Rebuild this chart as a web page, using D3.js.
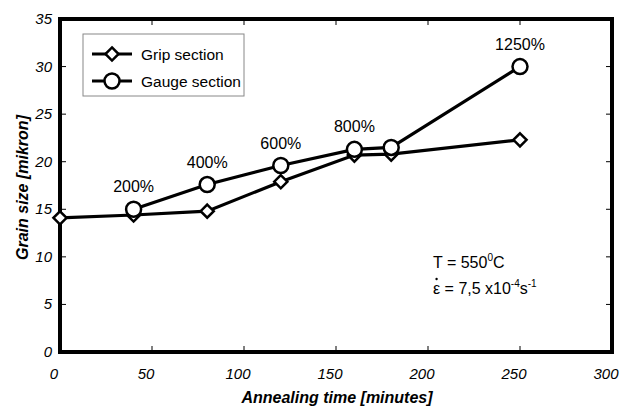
<!DOCTYPE html>
<html>
<head>
<meta charset="utf-8">
<script src="https://cdn.jsdelivr.net/npm/d3@7"></script>
<style>
  body { margin: 0; background: #fff; }
  text { font-family: "Liberation Sans", Arial, sans-serif; fill: #000; }
  .tick-label { font-style: italic; font-size: 15px; }
  .title { font-family: "Liberation Sans Narrow", "Liberation Sans", Arial, sans-serif; font-weight: bold; font-style: italic; font-size: 16px; }
</style>
</head>
<body>
<div id="chart"></div>
<script>
// data
let gripTime = [0, 40, 80, 120, 160, 180, 250];
let gripSize = [14.1, 14.4, 14.8, 17.9, 20.7, 20.8, 22.3];
let gaugeTime = [40, 80, 120, 160, 180, 250];
let gaugeSize = [15.0, 17.6, 19.6, 21.3, 21.5, 30.0];
let strainLabels = ["200%", "400%", "600%", "800%", "", "1250%"];
let xTicks = [0, 50, 100, 150, 200, 250, 300];
let yTicks = [0, 5, 10, 15, 20, 25, 30, 35];

let width = 632, height = 409;
let margin = {left: 60, right: 20, top: 19, bottom: 57};

let svg = d3.select("#chart").append("svg")
  .attr("width", width)
  .attr("height", height);

let x = d3.scaleLinear().domain([0, 300]).range([margin.left, width - margin.right]);
let y = d3.scaleLinear().domain([0, 35]).range([height - margin.bottom, margin.top]);

// inner ticks on all four sides
let tickLen = 6;
xTicks.slice(1, -1).forEach(t => {
  svg.append("line").attr("x1", x(t)).attr("x2", x(t))
    .attr("y1", y(0)).attr("y2", y(0) - tickLen)
    .attr("stroke", "#000").attr("stroke-width", 1);
  svg.append("line").attr("x1", x(t)).attr("x2", x(t))
    .attr("y1", y(35)).attr("y2", y(35) + tickLen)
    .attr("stroke", "#000").attr("stroke-width", 1);
});
yTicks.slice(1, -1).forEach(t => {
  svg.append("line").attr("x1", x(0)).attr("x2", x(0) + tickLen)
    .attr("y1", y(t)).attr("y2", y(t))
    .attr("stroke", "#000").attr("stroke-width", 1);
  svg.append("line").attr("x1", x(300)).attr("x2", x(300) - tickLen)
    .attr("y1", y(t)).attr("y2", y(t))
    .attr("stroke", "#000").attr("stroke-width", 1);
});

// frame
svg.append("rect")
  .attr("x", x(0)).attr("y", y(35))
  .attr("width", x(300) - x(0)).attr("height", y(0) - y(35))
  .attr("fill", "none").attr("stroke", "#000").attr("stroke-width", 4);

// tick labels
svg.selectAll(".xlab").data(xTicks).enter().append("text")
  .attr("class", "tick-label")
  .attr("x", d => x(d) - 6).attr("y", y(0) + 27)
  .attr("text-anchor", "middle")
  .text(d => d);

svg.selectAll(".ylab").data(yTicks).enter().append("text")
  .attr("class", "tick-label")
  .attr("x", x(0) - 8).attr("y", d => y(d) + 5)
  .attr("text-anchor", "end")
  .text(d => d);

// axis titles
svg.append("text").attr("class", "title")
  .attr("x", (x(0) + x(300)) / 2 + 1).attr("y", 403)
  .attr("text-anchor", "middle")
  .text("Annealing time [minutes]");

svg.append("text").attr("class", "title")
  .attr("transform", "translate(28," + (y(17.5) + 2) + ") rotate(-90)")
  .attr("text-anchor", "middle")
  .text("Grain size [mikron]");

let grip = gripTime.map((t, i) => ({t: t, v: gripSize[i]}));
let gauge = gaugeTime.map((t, i) => ({t: t, v: gaugeSize[i], lab: strainLabels[i]}));

let line = d3.line().x(d => x(d.t)).y(d => y(d.v));

svg.append("path").datum(grip)
  .attr("d", line).attr("fill", "none")
  .attr("stroke", "#000").attr("stroke-width", 3.2);

svg.append("path").datum(gauge)
  .attr("d", line).attr("fill", "none")
  .attr("stroke", "#000").attr("stroke-width", 3.2);

let diamond = d3.symbol().type(d3.symbolDiamond2).size(110);

svg.selectAll(".grip").data(grip).enter().append("path")
  .attr("d", diamond)
  .attr("transform", d => "translate(" + x(d.t) + "," + y(d.v) + ")")
  .attr("fill", "#fff").attr("stroke", "#000").attr("stroke-width", 2.5);

svg.selectAll(".gauge").data(gauge).enter().append("circle")
  .attr("cx", d => x(d.t)).attr("cy", d => y(d.v)).attr("r", 7.5)
  .attr("fill", "#fff").attr("stroke", "#000").attr("stroke-width", 2.5);

svg.selectAll(".strain").data(gauge.filter(d => d.lab)).enter().append("text")
  .attr("x", d => x(d.t)).attr("y", d => y(d.v) - 17)
  .attr("text-anchor", "middle")
  .style("font-size", "16px")
  .text(d => d.lab);

// legend
let legend = svg.append("g");
legend.append("rect")
  .attr("x", 83).attr("y", 34).attr("width", 161).attr("height", 62)
  .attr("fill", "#fff").attr("stroke", "#888").attr("stroke-width", 1);

[{name: "Grip section", sym: "d"}, {name: "Gauge section", sym: "c"}].forEach((s, i) => {
  let yy = 54 + i * 27;
  legend.append("line").attr("x1", 92).attr("x2", 132)
    .attr("y1", yy).attr("y2", yy)
    .attr("stroke", "#000").attr("stroke-width", 3.2);
  if (s.sym == "d") {
    legend.append("path").attr("d", diamond)
      .attr("transform", "translate(112," + yy + ")")
      .attr("fill", "#fff").attr("stroke", "#000").attr("stroke-width", 2.5);
  } else {
    legend.append("circle").attr("cx", 112).attr("cy", yy).attr("r", 7.5)
      .attr("fill", "#fff").attr("stroke", "#000").attr("stroke-width", 2.5);
  }
  legend.append("text").attr("x", 141).attr("y", yy + 6)
    .style("font-size", "15.5px")
    .text(s.name);
});

// conditions note
let note = svg.append("g").style("font-size", "16px");
let t1 = note.append("text").attr("x", 433).attr("y", 268);
t1.append("tspan").text("T = 550");
t1.append("tspan").attr("dy", -7).style("font-size", "10px").text("0");
t1.append("tspan").attr("dy", 7).text("C");

let t2 = note.append("text").attr("x", 433).attr("y", 294);
let eps = t2.append("tspan").text("\u03B5");
t2.append("tspan").text(" = 7,5 x10");
t2.append("tspan").attr("dy", -7).style("font-size", "10px").text("-4");
t2.append("tspan").attr("dy", 7).text("s");
t2.append("tspan").attr("dy", -7).style("font-size", "10px").text("-1");

// dot over epsilon (strain rate)
let epsW = eps.node().getComputedTextLength();
note.append("circle")
  .attr("cx", 433 + epsW / 2).attr("cy", 294 - 15).attr("r", 1.2)
  .attr("fill", "#000");
</script>
</body>
</html>
